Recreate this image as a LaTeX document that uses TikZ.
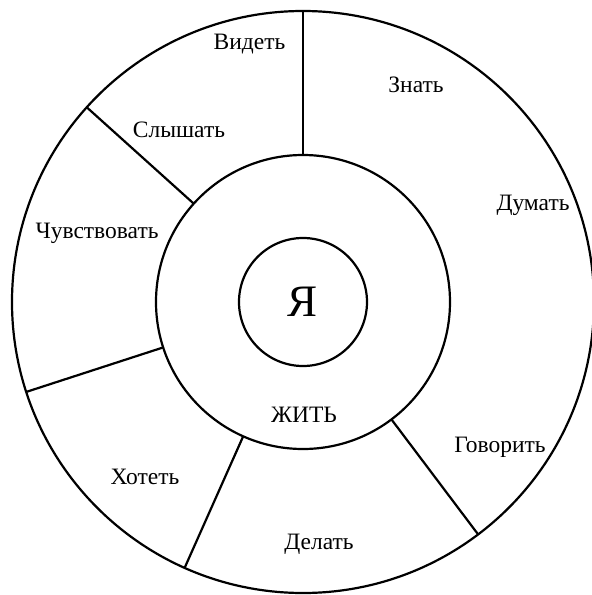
\documentclass[tikz,border=0pt]{standalone}
\usepackage{fontspec}
\setmainfont{Liberation Serif}

\begin{document}
\begin{tikzpicture}[x=1pt, y=1pt, line width=2.2pt,
    ring/.style={draw, circle, inner sep=0pt, outer sep=0pt},
    word/.style={anchor=base, font=\fontsize{23.5}{28}\selectfont}]
  % parameters
  \def\rin{64}   % radius of the inner circle
  \def\rmid{147} % radius of the middle circle
  \def\rout{291} % radius of the outer circle

  \useasboundingbox (-303,-293) rectangle (289,302);

  % circles
  \node[ring, minimum size=2*\rout] (outer) at (0,0) {};
  \node[ring, minimum size=2*\rmid] (mid) at (0,0) {};
  \node[ring, minimum size=2*\rin, font=\fontsize{45}{54}\selectfont] (ya) at (0,0) {Я};

  % spokes between middle and outer circle
  \foreach \a in {90,138,198,246,307}
    \draw (mid.\a) -- (outer.\a);

  % labels
  \node[word] (zhit) at (1,-120.7) {ЖИТЬ};
  \node[word] (videt) at (-53.5,252) {Видеть};
  \node[word] (znat) at (113,210) {Знать};
  \node[word] (slyshat) at (-124,165) {Слышать};
  \node[word] (dumat) at (230,92) {Думать};
  \node[word] (chuvstvovat) at (-206,64) {Чувствовать};
  \node[word] (govorit) at (197,-150.7) {Говорить};
  \node[word] (khotet) at (-158,-182) {Хотеть};
  \node[word] (delat) at (16,-247.6) {Делать};
\end{tikzpicture}
\end{document}
